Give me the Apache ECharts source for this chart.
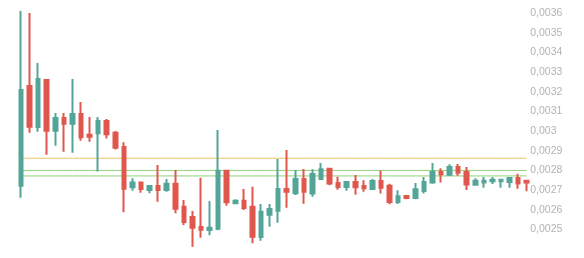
<!DOCTYPE html>
<html>
<head>
<meta charset="utf-8">
<script src="https://cdn.jsdelivr.net/npm/echarts@6/dist/echarts.min.js"></script>
<style>html,body{margin:0;padding:0;background:#fff}#c{width:584px;height:258px}</style>
</head>
<body>
<div id="c"></div>
<script>
// [open, close, low, high]
const candles = [
  [0.002722, 0.003210, 0.002661, 0.003612],
  [0.003230, 0.003023, 0.002992, 0.003602],
  [0.003021, 0.003266, 0.002997, 0.003347],
  [0.003260, 0.003002, 0.002880, 0.003260],
  [0.003002, 0.003067, 0.002926, 0.003092],
  [0.003067, 0.003038, 0.002895, 0.003092],
  [0.003038, 0.003087, 0.002890, 0.003266],
  [0.003087, 0.002969, 0.002951, 0.003148],
  [0.002982, 0.002972, 0.002946, 0.003072],
  [0.002989, 0.003052, 0.002794, 0.003072],
  [0.003052, 0.002984, 0.002962, 0.003062],
  [0.002992, 0.002916, 0.002906, 0.003001],
  [0.002919, 0.002707, 0.002587, 0.002943],
  [0.002714, 0.002738, 0.002697, 0.002760],
  [0.002738, 0.002705, 0.002687, 0.002743],
  [0.002700, 0.002721, 0.002684, 0.002726],
  [0.002721, 0.002700, 0.002641, 0.002828],
  [0.002700, 0.002732, 0.002692, 0.002756],
  [0.002732, 0.002605, 0.002582, 0.002802],
  [0.002615, 0.002537, 0.002522, 0.002649],
  [0.002563, 0.002508, 0.002412, 0.002593],
  [0.002512, 0.002498, 0.002457, 0.002763],
  [0.002497, 0.002508, 0.002470, 0.002644],
  [0.002503, 0.002799, 0.002495, 0.003006],
  [0.002799, 0.002638, 0.002620, 0.002802],
  [0.002633, 0.002646, 0.002629, 0.002653],
  [0.002646, 0.002609, 0.002599, 0.002705],
  [0.002615, 0.002463, 0.002429, 0.002717],
  [0.002461, 0.002590, 0.002442, 0.002629],
  [0.002575, 0.002604, 0.002513, 0.002629],
  [0.002595, 0.002705, 0.002534, 0.002858],
  [0.002705, 0.002692, 0.002610, 0.002904],
  [0.002684, 0.002756, 0.002675, 0.002802],
  [0.002756, 0.002692, 0.002631, 0.002807],
  [0.002682, 0.002782, 0.002666, 0.002806],
  [0.002756, 0.002806, 0.002751, 0.002838],
  [0.002809, 0.002734, 0.002724, 0.002811],
  [0.002736, 0.002716, 0.002702, 0.002768],
  [0.002716, 0.002741, 0.002697, 0.002746],
  [0.002741, 0.002714, 0.002676, 0.002777],
  [0.002721, 0.002709, 0.002692, 0.002750],
  [0.002705, 0.002746, 0.002700, 0.002756],
  [0.002746, 0.002712, 0.002682, 0.002799],
  [0.002722, 0.002639, 0.002628, 0.002732],
  [0.002639, 0.002668, 0.002629, 0.002699],
  [0.002670, 0.002660, 0.002653, 0.002673],
  [0.002660, 0.002704, 0.002653, 0.002736],
  [0.002695, 0.002741, 0.002682, 0.002767],
  [0.002738, 0.002792, 0.002732, 0.002838],
  [0.002792, 0.002780, 0.002738, 0.002811],
  [0.002778, 0.002817, 0.002772, 0.002831],
  [0.002817, 0.002788, 0.002773, 0.002833],
  [0.002792, 0.002729, 0.002700, 0.002817],
  [0.002727, 0.002748, 0.002722, 0.002760],
  [0.002738, 0.002748, 0.002712, 0.002767],
  [0.002745, 0.002753, 0.002731, 0.002767],
  [0.002745, 0.002753, 0.002712, 0.002755],
  [0.002741, 0.002761, 0.002712, 0.002767],
  [0.002761, 0.002734, 0.002707, 0.002783],
  [0.002748, 0.002738, 0.002694, 0.002751]
];
const categories = candles.map((_, i) => String(i + 1));
const orangeLevels = [0.002862];
const greenLevels = [0.0028, 0.002772];
const yMin = 0.0024, yMax = 0.0036, yStep = 0.0001;

const chart = echarts.init(document.getElementById('c'), null, {renderer: 'canvas'});

function levelSeries(v, color) {
  return {
    type: 'line', data: categories.map(() => v), z: 1, silent: true,
    symbol: 'none', showSymbol: false,
    lineStyle: {color: color, width: 1}, emphasis: {disabled: true}
  };
}

chart.setOption({
  animation: false,
  backgroundColor: '#ffffff',
  grid: {left: 21, right: 57.3, top: 13.3, bottom: 9},
  xAxis: {
    type: 'category', data: categories, boundaryGap: false,
    axisLine: {show: false}, axisTick: {show: false}, axisLabel: {show: false}, splitLine: {show: false}
  },
  yAxis: {
    type: 'value', position: 'right', min: yMin, max: yMax, interval: yStep, scale: true,
    axisLine: {show: false}, axisTick: {show: false}, splitLine: {show: false},
    axisLabel: {
      showMinLabel: false, color: '#b3b3b3', fontSize: 10.5, margin: 3.5,
      fontFamily: 'Liberation Sans, Arial, sans-serif',
      formatter: v => String(+(+v).toFixed(5)).replace('.', ',')
    }
  },
  series: orangeLevels.map(v => levelSeries(v, '#eec46a'))
    .concat(greenLevels.map(v => levelSeries(v, '#8fd07a')))
    .concat([{
      type: 'candlestick', data: candles, z: 3, clip: false,
      barWidth: 4,
      itemStyle: {color: '#52a597', color0: '#e0574d', borderColor: '#52a597', borderColor0: '#e0574d', borderWidth: 2}
    }])
});
</script>
</body>
</html>
